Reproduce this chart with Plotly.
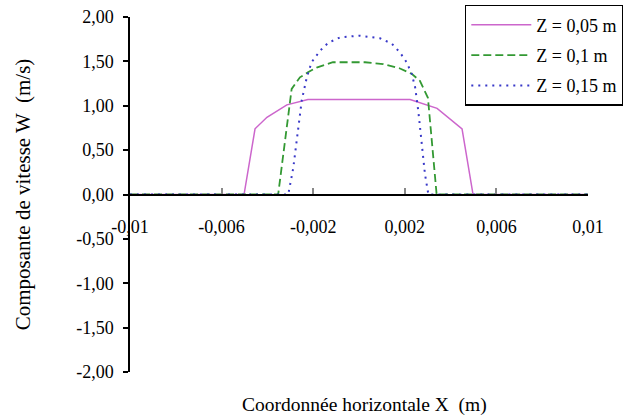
import plotly.graph_objects as go

# Data
x_z005 = [-0.01, -0.00502, -0.00454, -0.00402, -0.00315, -0.00223, 0.00223, 0.00341, 0.00450, 0.00498, 0.01]
w_z005 = [0.0, 0.0, 0.74, 0.87, 1.01, 1.07, 1.07, 0.97, 0.74, 0.0, 0.0]

x_z01 = [-0.01, -0.00353, -0.00294, -0.00258, -0.00221, -0.00185, -0.00114, 0.00026, 0.00106,
         0.00179, 0.00230, 0.00266, 0.00301, 0.00339, 0.01]
w_z01 = [0.0, 0.0, 1.19, 1.32, 1.38, 1.43, 1.49, 1.49, 1.47, 1.42, 1.36, 1.28, 1.09, 0.0, 0.0]

x_z015 = [-0.01, -0.00309, -0.00287, -0.00265, -0.00250, -0.00228, -0.00207, -0.00170, -0.00134,
          -0.00083, 0.0, 0.00092, 0.00143, 0.00179, 0.00208, 0.00230, 0.00245, 0.00259, 0.00274,
          0.00288, 0.00303, 0.01]
w_z015 = [0.0, 0.0, 0.30, 0.75, 1.06, 1.32, 1.49, 1.62, 1.71, 1.77, 1.79, 1.76, 1.70, 1.60, 1.49,
          1.36, 1.21, 0.94, 0.60, 0.23, 0.0, 0.0]

series_names = ["Z = 0,05 m", "Z = 0,1 m", "Z = 0,15 m"]

x_tickvals = [-0.01, -0.006, -0.002, 0.002, 0.006, 0.01]
x_ticktext = ["-0,01", "-0,006", "-0,002", "0,002", "0,006", "0,01"]
y_tickvals = [2, 1.5, 1, 0.5, 0, -0.5, -1, -1.5, -2]
y_ticktext = ["2,00", "1,50", "1,00", "0,50", "0,00", "-0,50", "-1,00", "-1,50", "-2,00"]

FONT = "Liberation Serif"

fig = go.Figure()
fig.add_trace(go.Scatter(x=x_z005, y=w_z005, mode="lines", name=series_names[0], legendgroup="a",
                         line=dict(color="#cc66cc", width=1.5)))
fig.add_trace(go.Scatter(x=x_z01, y=w_z01, mode="lines", name=series_names[1], legendgroup="b",
                         line=dict(color="#339933", width=1.8, dash="8px,4px")))
fig.add_trace(go.Scatter(x=x_z015, y=w_z015, mode="lines", name=series_names[2], legendgroup="c",
                         line=dict(color="#3838c8", width=2, dash="2px,5px")))

fig.update_layout(
    width=623, height=416,
    margin=dict(l=130, r=35, t=17, b=44, autoexpand=False),
    paper_bgcolor="white", plot_bgcolor="white",
    font=dict(family=FONT, size=18, color="black"),
    showlegend=True,
    legend=dict(x=0.731, y=1.034, xanchor="left", yanchor="top",
                bgcolor="white", bordercolor="black", borderwidth=1.5,
                font=dict(family=FONT, size=18), itemwidth=60, tracegroupgap=4),
    xaxis=dict(range=[-0.01, 0.01], anchor="free", position=0.5,
               showline=True, linecolor="black", linewidth=1.5,
               showgrid=False, zeroline=False,
               ticks="inside", ticklen=6, tickwidth=2, tickcolor="#888888",
               tickvals=x_tickvals, ticktext=x_ticktext,
               ticklabelstandoff=16,
               tickfont=dict(family=FONT, size=18)),
    yaxis=dict(range=[-2, 2], showline=True, linecolor="black", linewidth=1.5,
               showgrid=False, zeroline=False,
               ticks="outside", ticklen=5, tickwidth=1.5, tickcolor="black",
               tickvals=y_tickvals, ticktext=y_ticktext,
               ticklabelstandoff=6,
               tickfont=dict(family=FONT, size=18),
               title=dict(text="Composante de vitesse W  (m/s)", standoff=40,
                          font=dict(family=FONT, size=21))),
    annotations=[dict(text="Coordonnée horizontale X  (m)", xref="paper", yref="paper",
                      x=0.511, y=-0.093, xanchor="center", yanchor="middle",
                      showarrow=False, font=dict(family=FONT, size=19.5))],
)

fig.write_html("out.html")
